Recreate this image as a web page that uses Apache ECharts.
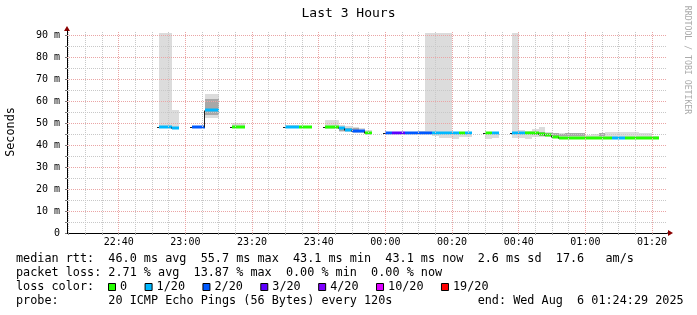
<!DOCTYPE html>
<html><head><meta charset="utf-8">
<script src="https://cdn.jsdelivr.net/npm/echarts@6/dist/echarts.min.js"></script>
<style>html,body{margin:0;padding:0;background:#fff}#c{width:697px;height:315px}</style>
</head><body><div id="c"></div>
<script>
// ---------- data ----------
const chartTitle = 'Last 3 Hours';
const rangeStart = '22:24:29';   // Aug 5
const rangeEnd = '01:24:29';     // Aug 6
const xTickLabels = ['22:40','23:00','23:20','23:40','00:00','00:20','00:40','01:00','01:20'];
const yTickValues = [0,10,20,30,40,50,60,70,80,90];
const yMax = 91.8;

const sampleTimes = [
  '22:52','22:54','22:56',
  '23:02','23:04','23:06','23:08',
  '23:14','23:16',
  '23:30','23:32','23:34','23:36',
  '23:42','23:44','23:46','23:48','23:50','23:52','23:54',
  '00:00','00:02','00:04','00:06','00:08','00:10','00:12','00:14','00:16','00:18','00:20','00:22','00:24',
  '00:30','00:32',
  '00:38','00:40','00:42','00:44','00:46','00:48','00:50','00:52','00:54','00:56','00:58',
  '01:00','01:02','01:04','01:06','01:08','01:10','01:12','01:14','01:16','01:18','01:20'
];
const medianMs = [
  48.1,48.1,47.7,
  48.1,48.1,55.7,55.7,
  48.1,48.1,
  48.1,48.1,48.1,48.1,
  48.2,48.2,47.7,46.8,46.4,46.2,45.6,
  45.6,45.6,45.6,45.5,45.5,45.5,45.5,45.5,45.5,45.5,45.5,45.5,45.5,
  45.5,45.5,
  45.4,45.4,45.4,45.3,45.0,44.5,43.8,43.2,43.2,43.2,43.2,
  43.2,43.2,43.2,43.2,43.2,43.2,43.2,43.2,43.2,43.2,43.1
];
const lossCount = [
  1,1,1,
  2,2,1,1,
  0,0,
  1,1,0,0,
  0,0,1,1,2,2,0,
  2,3,3,2,2,2,2,1,1,1,1,0,1,
  0,1,
  1,1,0,0,0,0,0,0,0,0,0,
  0,0,0,0,1,1,0,0,0,0,0
];
const smokeLow = [
  47.8,47.8,47.4,
  47.8,47.8,52.4,52.4,
  47.7,47.7,
  47.6,47.6,47.6,47.6,
  47.3,47.3,46.0,45.9,45.5,45.5,45.2,
  45.2,45.2,45.2,45.2,45.2,45.0,44.8,44.2,43.3,43.3,42.9,43.8,43.8,
  42.9,43.3,
  43.3,43.3,42.9,43.5,43.5,43.5,43.0,43.0,43.0,43.0,43.0,
  43.0,43.0,43.0,43.0,43.0,43.0,43.0,43.0,43.0,43.0,43.0
];
const smokeHigh = [
  91,91,56,
  48.6,48.6,63.2,63.2,
  49.8,49.8,
  49.1,49.1,48.6,48.6,
  51.4,51.4,49.1,48.6,48.3,47.5,46.7,
  45.9,45.9,45.9,45.9,45.9,46.4,91,91,91,91,45.8,45.8,46.0,
  45.8,45.8,
  91,46.7,46.4,47.3,48.2,46.0,45.5,45.3,45.5,45.5,45.5,
  44.6,44.9,45.6,46.0,45.8,45.8,45.8,45.8,45.5,45.5,44.0
];
const coreLow = [
  null,null,null,
  null,null,53.6,53.6,
  null,null,
  null,null,null,null,
  null,null,46.5,46.2,46.0,45.8,null,
  null,null,null,null,null,null,null,null,null,null,null,null,null,
  null,null,
  null,null,null,44.6,44.3,44.2,44.2,44.0,44.2,44.2,44.2,
  null,null,44.0,null,null,null,null,null,null,null,null
];
const coreHigh = [
  null,null,null,
  null,null,60.9,60.9,
  null,null,
  null,null,null,null,
  null,null,48.0,47.8,47.6,47.0,null,
  null,null,null,null,null,null,null,null,null,null,null,null,null,
  null,null,
  null,null,null,45.6,45.8,45.5,45.4,45.2,45.4,45.4,45.3,
  null,null,45.6,null,null,null,null,null,null,null,null
];
const lossLevels = [0,1,2,3,4,10,19];
const lossLabels = ['0','1/20','2/20','3/20','4/20','10/20','19/20'];
const lossColors = ['#26ff00','#00b8ff','#0059ff','#5e00ff','#7e00ff','#dd00ff','#ff0000'];

const statRtt  = 'median rtt:  46.0 ms avg  55.7 ms max  43.1 ms min  43.1 ms now  2.6 ms sd  17.6   am/s';
const statLoss = 'packet loss: 2.71 % avg  13.87 % max  0.00 % min  0.00 % now';
const lossRowLabel = 'loss color:';
const probeRow = 'probe:       20 ICMP Echo Pings (56 Bytes) every 120s            end: Wed Aug  6 01:24:29 2025';
const yAxisTitle = 'Seconds';
const watermark = 'RRDTOOL / TOBI OETIKER';

// ---------- helpers ----------
const STEP = 120000;
function toMs(s) {
  const p = s.split(':').map(Number);
  const day = p[0] >= 12 ? 5 : 6;
  return Date.UTC(2025, 7, day, p[0], p[1], p[2] || 0);
}
function fmt(v) {
  const d = new Date(v);
  const h = String(d.getUTCHours()).padStart(2, '0');
  const m = String(d.getUTCMinutes()).padStart(2, '0');
  return h + ':' + m;
}
function lossColor(n) {
  let c = lossColors[0];
  for (let k = 0; k < lossLevels.length; k++) if (n >= lossLevels[k]) c = lossColors[k];
  return c;
}
const xMin = toMs(rangeStart), xMax = toMs(rangeEnd);
const tMs = sampleTimes.map(toMs);
const xMajor = xTickLabels.map(toMs);
const xMinor = [];
for (let t = Math.ceil(xMin / 300000) * 300000; t < xMax; t += 300000) {
  if (xMajor.indexOf(t) < 0) xMinor.push(t);
}
const xAllTicks = xMinor.concat(xMajor).sort((a, b) => a - b);
const yMinor = [], yAll = [];
for (let v = 5; v < yMax; v += 10) yMinor.push(v);
for (let v = 0; v < yMax; v += 5) yAll.push(v);

const FONT = "'DejaVu Sans Mono', 'Liberation Mono', monospace";
const minorStyle = { color: '#c8c8c8', width: 1, type: [1, 1] };
const majorStyle = { color: '#eaa5a5', width: 1, type: [1, 1] };

const chart = echarts.init(document.getElementById('c'), null, { renderer: 'canvas' });

const gridSeries = (name, xs, ys, style, z) => ({
  type: 'line', name, data: [], z, silent: true,
  markLine: {
    silent: true, symbol: ['none', 'none'], animation: false,
    label: { show: false }, emphasis: { disabled: true },
    lineStyle: style,
    data: xs.map(v => ({ xAxis: v })).concat(ys.map(v => ({ yAxis: v })))
  }
});

const option = {
  animation: false,
  backgroundColor: '#ffffff',
  title: {
    text: chartTitle, left: 'center', top: 7, padding: 0,
    textStyle: { fontFamily: FONT, fontSize: 13, fontWeight: 'normal', color: '#000' }
  },
  grid: { left: 67, right: 30, top: 31, bottom: 82, containLabel: false, outerBoundsMode: 'none' },
  xAxis: {
    type: 'value', min: xMin, max: xMax,
    axisLine: { show: true, lineStyle: { color: '#000', width: 1 } },
    axisTick: { show: true, customValues: xAllTicks, length: 2, lineStyle: { color: '#999' } },
    axisLabel: {
      customValues: xMajor, formatter: fmt, margin: 4,
      fontFamily: FONT, fontSize: 10, color: '#000'
    },
    splitLine: { show: false }
  },
  yAxis: {
    type: 'value', min: 0, max: yMax,
    name: yAxisTitle, nameLocation: 'middle', nameGap: 50,
    nameTextStyle: { fontFamily: FONT, fontSize: 11.8, color: '#000' },
    axisLine: { show: true, lineStyle: { color: '#000', width: 1 } },
    axisTick: { show: true, customValues: yAll, length: 2, lineStyle: { color: '#777' } },
    axisLabel: {
      customValues: yTickValues, formatter: v => (v === 0 ? '0' : v + ' m'), margin: 7,
      fontFamily: FONT, fontSize: 10, color: '#000'
    },
    splitLine: { show: false }
  },
  series: [
    gridSeries('minor', xMinor, yMinor, minorStyle, 1),
    gridSeries('major', xMajor, yTickValues.filter(v => v > 0), majorStyle, 1),
    {
      type: 'custom', name: 'smoke', z: 3, clip: true,
      data: tMs.map((t, i) => [t, medianMs[i]]),
      renderItem(params, api) {
        const i = params.dataIndex;
        const t = tMs[i];
        const children = [];
        const box = (lo, hi, fill) => {
          const p0 = api.coord([t, hi]);
          const p1 = api.coord([t + STEP, lo]);
          const x0 = Math.round(p0[0]), x1 = Math.round(p1[0]);
          const y0 = Math.round(p0[1]), y1 = Math.round(p1[1]);
          children.push({ type: 'rect', shape: { x: x0, y: y0, width: x1 - x0, height: Math.max(1, y1 - y0) }, style: { fill } });
        };
        if (smokeLow[i] != null) box(smokeLow[i], smokeHigh[i], '#dcdcdc');
        if (coreLow[i] != null) box(coreLow[i], coreHigh[i], '#a8a8a8');
        return { type: 'group', children };
      }
    },
    {
      type: 'custom', name: 'median', z: 4, clip: true,
      data: tMs.map((t, i) => [t, medianMs[i]]),
      renderItem(params, api) {
        const i = params.dataIndex;
        const t = tMs[i];
        const a = api.coord([t, medianMs[i]]);
        const b = api.coord([t + STEP, medianMs[i]]);
        const x0 = Math.round(a[0]), x1 = Math.round(b[0]);
        const yc = Math.round(a[1]) + 0.5;
        const children = [];
        const cont = i > 0 && tMs[i - 1] === t - STEP;
        children.push({ type: 'line', shape: { x1: x0 - (cont ? 0 : 2), y1: yc, x2: x1, y2: yc }, style: { stroke: '#202020', lineWidth: 1 } });
        if (cont && medianMs[i - 1] !== medianMs[i]) {
          const p = api.coord([t, medianMs[i - 1]]);
          const yp = Math.round(p[1]) + 0.5;
          children.push({ type: 'line', shape: { x1: x0 - 0.5, y1: yp, x2: x0 - 0.5, y2: yc }, style: { stroke: '#202020', lineWidth: 1 } });
        }
        children.push({ type: 'rect', shape: { x: x0, y: yc - 2, width: x1 - x0, height: 3 }, style: { fill: lossColor(lossCount[i]) } });
        return { type: 'group', children };
      }
    }
  ]
};
chart.setOption(option);

// ---------- decorations: arrows, legend text ----------
const origin = chart.convertToPixel({ gridIndex: 0 }, [xMin, 0]);
const xEndPx = chart.convertToPixel({ gridIndex: 0 }, [xMax, 0]);
const yTopPx = chart.convertToPixel({ gridIndex: 0 }, [xMin, yMax]);
const ARROW = '#8b0000';
const graphics = [
  { type: 'line', shape: { x1: xEndPx[0], y1: origin[1], x2: xEndPx[0] + 2, y2: origin[1] }, style: { stroke: '#000', lineWidth: 1 } },
  { type: 'polygon', shape: { points: [[xEndPx[0] + 1, origin[1] - 3], [xEndPx[0] + 6, origin[1]], [xEndPx[0] + 1, origin[1] + 3]] }, style: { fill: ARROW } },
  { type: 'polygon', shape: { points: [[origin[0] - 3, yTopPx[1]], [origin[0], yTopPx[1] - 5], [origin[0] + 3, yTopPx[1]]] }, style: { fill: ARROW } },
  { type: 'text', x: 687, y: 60, rotation: -Math.PI / 2,
    style: { text: watermark, fill: '#aaaaaa', font: '8.2px ' + FONT, align: 'center', verticalAlign: 'middle' } }
];
const rows = [statRtt, statLoss, lossRowLabel, probeRow];
const rowY = [259, 273, 287, 301];
rows.forEach((txt, k) => {
  graphics.push({ type: 'text', x: 16, y: rowY[k],
    style: { text: txt, fill: '#000', font: '11.8px ' + FONT, align: 'left', verticalAlign: 'middle' } });
});
const CH = 7.09;
let bx = 108;
lossLabels.forEach((lab, k) => {
  graphics.push({ type: 'rect', shape: { x: bx + 0.5, y: 283.5, width: 7, height: 7 },
    style: { fill: lossColors[k], stroke: '#000', lineWidth: 1 } });
  graphics.push({ type: 'text', x: bx + 12, y: 287,
    style: { text: lab, fill: '#000', font: '11.8px ' + FONT, align: 'left', verticalAlign: 'middle' } });
  bx += 29.5 + CH * lab.length;
});
chart.setOption({ graphic: graphics });
</script>
</body></html>
